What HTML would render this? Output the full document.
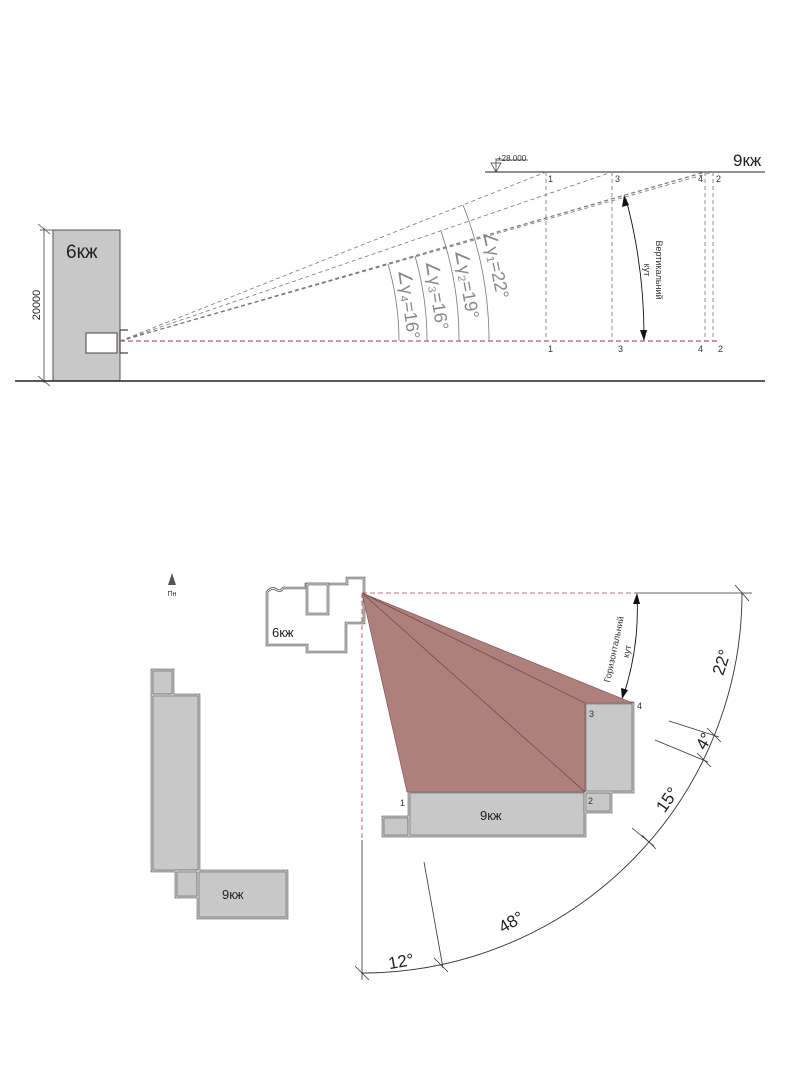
<!DOCTYPE html>
<html><head><meta charset="utf-8"><style>
html,body{margin:0;padding:0;background:#fff;width:790px;height:1079px;overflow:hidden}
svg{display:block}
text{font-family:"Liberation Sans","DejaVu Sans",sans-serif}
</style></head><body>
<svg width="790" height="1079" viewBox="0 0 790 1079" xmlns="http://www.w3.org/2000/svg">
<!-- TOP SECTION -->
<rect x="53" y="230" width="67" height="151" fill="#c8c8c8" stroke="#555" stroke-width="1"/>
<text x="66" y="258" font-size="19" fill="#222">6кж</text>
<rect x="86" y="333" width="31" height="20" fill="#fff" stroke="#444" stroke-width="1"/>
<path d="M120 330 h8 M120 353 h8 M120 330 v23" stroke="#444" stroke-width="1.2" fill="none"/>
<line x1="44" y1="228" x2="44" y2="383" stroke="#444" stroke-width="0.8"/>
<line x1="38" y1="224" x2="50" y2="234" stroke="#444" stroke-width="0.8"/>
<line x1="38" y1="376" x2="50" y2="386" stroke="#444" stroke-width="0.8"/>
<line x1="40" y1="230" x2="53" y2="230" stroke="#444" stroke-width="0.8"/>
<text transform="translate(40,305) rotate(-90)" font-size="11" text-anchor="middle" fill="#222">20000</text>
<line x1="15" y1="381" x2="765" y2="381" stroke="#222" stroke-width="1.5"/>
<line x1="485" y1="172" x2="765" y2="172" stroke="#222" stroke-width="1"/>
<text x="733" y="166" font-size="17" fill="#222">9кж</text>
<path d="M491 163 L496 172 L501 163 Z M496 172 V158 M496 160 H528" stroke="#333" stroke-width="0.7" fill="none"/>
<text x="497" y="161" font-size="8" fill="#333">+28.000</text>
<g stroke="#777" stroke-width="0.8" stroke-dasharray="4,3" fill="none">
<line x1="546" y1="172" x2="546" y2="341"/>
<line x1="612" y1="172" x2="612" y2="341"/>
<line x1="705" y1="172" x2="705" y2="341"/>
<line x1="713" y1="172" x2="713" y2="341"/>
<line x1="120" y1="341" x2="546" y2="172"/>
<line x1="120" y1="341" x2="612" y2="172"/>
<line x1="120" y1="341" x2="705" y2="172" stroke-width="1.2"/>
<line x1="120" y1="341" x2="713" y2="172"/>
</g>
<line x1="120" y1="341" x2="720" y2="341" stroke="#b0606a" stroke-width="1.2" stroke-dasharray="5,3"/>
<g font-size="9" fill="#333">
<text x="548" y="182">1</text><text x="615" y="182">3</text><text x="698" y="182">4</text><text x="716" y="182">2</text>
<text x="548" y="352">1</text><text x="618" y="352">3</text><text x="698" y="352">4</text><text x="718" y="352">2</text>
</g>
<g stroke="#777" stroke-width="0.8" fill="none">
<path d="M489 341 A369 369 0 0 0 463 205"/>
<path d="M459 341 A339 339 0 0 0 441 231"/>
<path d="M427 341 A307 307 0 0 0 415 256"/>
<path d="M399 341 A279 279 0 0 0 388 264"/>
</g>
<g font-size="18" fill="#888">
<text transform="translate(490,266) rotate(78)" text-anchor="middle">∠γ₁=22°</text>
<text transform="translate(461,285) rotate(80)" text-anchor="middle">∠γ₂=19°</text>
<text transform="translate(431,296) rotate(81)" text-anchor="middle">∠γ₃=16°</text>
<text transform="translate(403,305) rotate(82)" text-anchor="middle">∠γ₄=16°</text>
</g>
<path d="M626 199 A530 530 0 0 1 644 339" stroke="#111" stroke-width="0.9" fill="none"/>
<path d="M624 195 L622 207 L629 205 Z" fill="#111"/>
<path d="M644 341 L640 330 L647 330 Z" fill="#111"/>
<text transform="translate(656,270) rotate(90)" font-size="9" fill="#333" text-anchor="middle">Вертикальний</text>
<text transform="translate(644,270) rotate(90)" font-size="9" fill="#333" text-anchor="middle">кут</text>

<!-- BOTTOM PLAN -->
<path d="M172 573 L176 585 L168 585 Z" fill="#555"/>
<text x="172" y="596" font-size="7" fill="#333" text-anchor="middle">Пн</text>
<g fill="#c8c8c8" stroke="#666" stroke-width="2.6">
<rect x="152" y="670" width="21" height="25"/>
<rect x="152" y="695" width="47" height="176"/>
<rect x="176" y="871" width="22" height="26"/>
<rect x="198" y="871" width="89" height="47"/>
</g>
<g fill="none" stroke="#fff" stroke-width="0.8">
<rect x="152" y="670" width="21" height="25"/>
<rect x="152" y="695" width="47" height="176"/>
<rect x="176" y="871" width="22" height="26"/>
<rect x="198" y="871" width="89" height="47"/>
</g>
<text x="222" y="899" font-size="13" fill="#222">9кж</text>
<path d="M267 592 Q272 586 277 590 Q281 592 283 588 L306 588 L306 584 L347 584 L347 578 L364 578 L364 623 L346 623 L346 652 L307 652 L307 645 L267 645 Z" fill="#fff" stroke="#666" stroke-width="2.6"/>
<path d="M267 592 Q272 586 277 590 Q281 592 283 588 L306 588 L306 584 L347 584 L347 578 L364 578 L364 623 L346 623 L346 652 L307 652 L307 645 L267 645 Z" fill="none" stroke="#fff" stroke-width="0.8"/>
<rect x="307" y="584" width="21" height="30" fill="#fff" stroke="#666" stroke-width="2.6"/>
<rect x="307" y="584" width="21" height="30" fill="none" stroke="#fff" stroke-width="0.8"/>
<text x="272" y="637" font-size="13" fill="#222">6кж</text>
<g fill="#c8c8c8" stroke="#666" stroke-width="2.6">
<rect x="383" y="817" width="26" height="19"/>
<rect x="409" y="792" width="176" height="44"/>
<rect x="585" y="792" width="26" height="20"/>
<rect x="585" y="703" width="48" height="89"/>
</g>
<g fill="none" stroke="#fff" stroke-width="0.8">
<rect x="383" y="817" width="26" height="19"/>
<rect x="409" y="792" width="176" height="44"/>
<rect x="585" y="792" width="26" height="20"/>
<rect x="585" y="703" width="48" height="89"/>
</g>
<path d="M362 593 L633 703 L585 703 L585 792 L407 792 Z" fill="#ad807d" stroke="#7a4a4a" stroke-width="0.6"/>
<line x1="362" y1="593" x2="585" y2="703" stroke="#6a3a3a" stroke-width="0.6"/>
<line x1="362" y1="593" x2="585" y2="792" stroke="#6a3a3a" stroke-width="0.6"/>
<text x="480" y="820" font-size="13" fill="#222">9кж</text>
<g font-size="9" fill="#333">
<text x="400" y="806">1</text><text x="588" y="804">2</text><text x="589" y="717">3</text><text x="637" y="709">4</text>
</g>
<line x1="362" y1="593" x2="635" y2="593" stroke="#c07078" stroke-width="1" stroke-dasharray="5,3"/>
<line x1="635" y1="593" x2="752" y2="593" stroke="#333" stroke-width="0.8"/>
<line x1="362" y1="593" x2="362" y2="840" stroke="#c07078" stroke-width="1" stroke-dasharray="5,3"/>
<line x1="362" y1="840" x2="362" y2="980" stroke="#333" stroke-width="0.8"/>
<path d="M742 593 A380 380 0 0 1 362 973" stroke="#333" stroke-width="0.9" fill="none"/>
<g stroke="#333" stroke-width="0.8">
<line x1="669" y1="721" x2="719" y2="737"/>
<line x1="655" y1="740" x2="708" y2="762"/>
<line x1="632" y1="828" x2="654" y2="846"/>
<line x1="424" y1="862" x2="443" y2="968"/>
<line x1="735" y1="585" x2="749" y2="601"/>
<line x1="707" y1="728" x2="721" y2="742"/>
<line x1="697" y1="753" x2="711" y2="767"/>
<line x1="642" y1="835" x2="656" y2="849"/>
<line x1="434" y1="958" x2="448" y2="972"/>
<line x1="355" y1="966" x2="369" y2="980"/>
</g>
<g font-size="17" fill="#222">
<text transform="translate(727,664) rotate(-72)" text-anchor="middle">22°</text>
<text transform="translate(709,744) rotate(-60)" text-anchor="middle">4°</text>
<text transform="translate(672,803) rotate(-55)" text-anchor="middle">15°</text>
<text transform="translate(514,927) rotate(-30)" text-anchor="middle">48°</text>
<text transform="translate(402,967) rotate(-10)" text-anchor="middle">12°</text>
</g>
<path d="M637 595 A275 275 0 0 1 623 697" stroke="#111" stroke-width="0.9" fill="none"/>
<path d="M637 593 L633 604 L640 604 Z" fill="#111"/>
<path d="M622 699 L621 688 L628 690 Z" fill="#111"/>
<text transform="translate(617,650) rotate(-78)" font-size="9" fill="#333" text-anchor="middle">Горизонтальний</text>
<text transform="translate(630,652) rotate(-78)" font-size="9" fill="#333" text-anchor="middle">кут</text>
</svg>
</body></html>
